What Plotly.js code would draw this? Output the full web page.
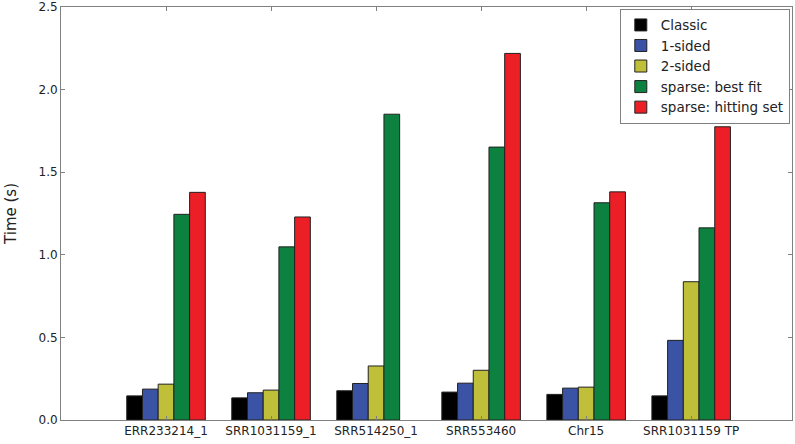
<!DOCTYPE html>
<html>
<head>
<meta charset="utf-8">
<script src="https://cdn.plot.ly/plotly-3.0.1.min.js"></script>
<style>
  html, body { margin: 0; padding: 0; background: #fff; }
  #chart { width: 795px; height: 444px; }
</style>
</head>
<body>
<div id="chart"></div>
<script>
// datasets on the x axis
const datasets = ["ERR233214_1", "SRR1031159_1", "SRR514250_1", "SRR553460", "Chr15", "SRR1031159 TP"];

// running times in seconds
const classic    = [0.146, 0.134, 0.177, 0.169, 0.155, 0.146];
const oneSided   = [0.187, 0.165, 0.221, 0.223, 0.193, 0.482];
const twoSided   = [0.217, 0.181, 0.327, 0.301, 0.199, 0.837];
const bestFit    = [1.245, 1.048, 1.851, 1.652, 1.315, 1.163];
const hittingSet = [1.378, 1.229, null, 2.219, 1.381, 1.775]; // no bar for SRR514250_1

const seriesNames = ["Classic", "1-sided", "2-sided", "sparse: best fit", "sparse: hitting set"];
const seriesColors = ["#000000", "#3a53a4", "#bfbf3a", "#0c8140", "#ec1f26"];
const seriesValues = [classic, oneSided, twoSided, bestFit, hittingSet];

// one bar trace per method
let traces = seriesValues.map((vals, i) => ({
    x: datasets,
    y: vals,
    name: seriesNames[i],
    type: "bar",
    marker: {
        color: seriesColors[i],
        line: { color: "#222222", width: 1 }
    }
}));

let axisFont = { family: "DejaVu Sans, sans-serif", size: 12, color: "#222" };

let layout = {
    width: 795,
    height: 444,
    margin: { l: 61, r: 3, t: 7, b: 24 },
    paper_bgcolor: "#fff",
    plot_bgcolor: "#fff",
    barmode: "group",
    bargap: 0.252,
    bargroupgap: 0,
    showlegend: true,
    font: axisFont,
    xaxis: {
        type: "category",
        range: [-1, 5.96],
        showgrid: false,
        showline: true,
        linecolor: "#808080",
        linewidth: 1,
        mirror: "ticks",
        ticks: "inside",
        ticklen: 4,
        tickcolor: "#808080",
        tickfont: axisFont,
        zeroline: false
    },
    yaxis: {
        range: [0, 2.5],
        dtick: 0.5,
        tickformat: ".1f",
        showgrid: false,
        showline: true,
        linecolor: "#808080",
        linewidth: 1,
        mirror: "ticks",
        ticks: "inside",
        ticklen: 4,
        tickcolor: "#808080",
        zeroline: false,
        tickfont: axisFont,
        ticklabeloverflow: "allow",
        title: { text: "Time (s)", font: { family: "DejaVu Sans, sans-serif", size: 15, color: "#222" }, standoff: 18 }
    },
    legend: {
        x: 0.997,
        y: 0.996,
        xanchor: "right",
        yanchor: "top",
        bgcolor: "#fff",
        bordercolor: "#808080",
        borderwidth: 1,
        tracegroupgap: 0,
        itemwidth: 30,
        font: { family: "DejaVu Sans, sans-serif", size: 13.5, color: "#222" }
    }
};

Plotly.newPlot("chart", traces, layout, { staticPlot: true });
</script>
</body>
</html>
